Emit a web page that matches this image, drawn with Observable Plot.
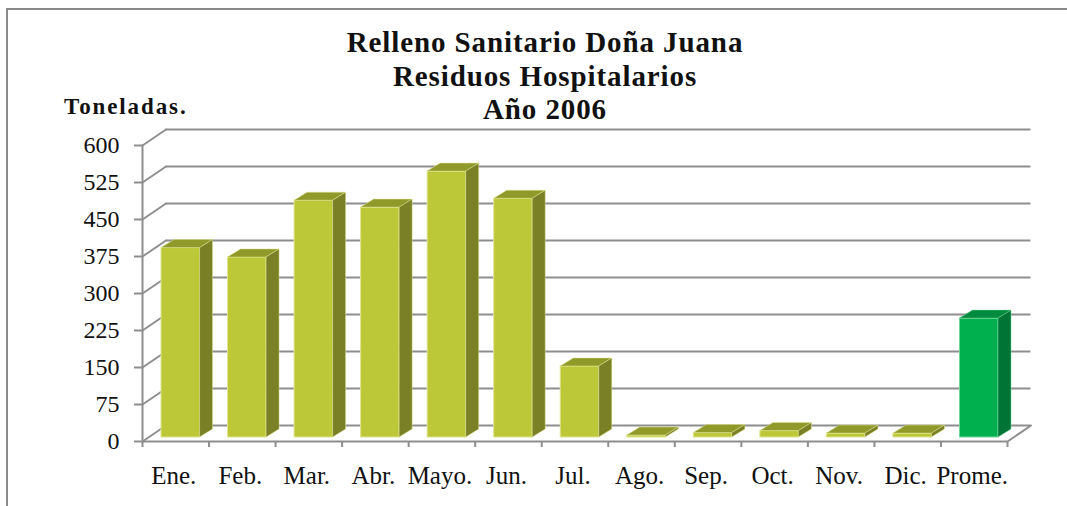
<!DOCTYPE html>
<html lang="es">
<head>
<meta charset="utf-8">
<script src="https://cdn.jsdelivr.net/npm/d3@7"></script>
<script src="https://cdn.jsdelivr.net/npm/@observablehq/plot@0.6"></script>
<style>
  html, body { margin: 0; padding: 0; background: #fff; }
  #page { position: relative; width: 1067px; height: 506px; overflow: hidden; background: #fff; font-family: "Liberation Serif", serif; color: #111; }
  #edge { position: absolute; left: 6px; top: 8px; right: -4px; bottom: -4px; border-top: 2px solid #8a8a8a; border-left: 2px solid #8a8a8a; }
  #head { position: relative; height: 125px; }
  #title { position: absolute; left: 24px; width: 1042px; top: 26px; text-align: center; font-weight: bold; font-size: 29px; line-height: 33.5px; letter-spacing: 0.9px; }
  #unit { position: absolute; left: 64px; top: 95px; font-weight: bold; font-size: 23px; line-height: 24px; letter-spacing: 1.9px; }
  svg { display: block; }
</style>
</head>
<body>
<div id="page">
  <div id="edge"></div>
  <div id="head">
    <div id="title">Relleno Sanitario Doña Juana<br>Residuos Hospitalarios<br>Año 2006</div>
    <div id="unit">Toneladas.</div>
  </div>
  <div id="chart"></div>
</div>
<script>
const months = ["Ene.", "Feb.", "Mar.", "Abr.", "Mayo.", "Jun.", "Jul.", "Ago.", "Sep.", "Oct.", "Nov.", "Dic.", "Prome."];
const tonnes = [384, 365, 480, 466, 539, 484, 144, 4, 9, 13, 8, 8, 241];
const yTicks = [0, 75, 150, 225, 300, 375, 450, 525, 600];

const olive = "#bcc838";
const green = "#00b04f";
const shades = {
  [olive]: {top: "#8f9a2b", side: "#7a8026", edge: "#dfe58f"},
  [green]: {top: "#008a3e", side: "#007434", edge: "#6fd69a"}
};
const fills = months.map(m => m === "Prome." ? green : olive);
const rows = months.map((m, i) => ({month: m, value: tonnes[i], fill: fills[i]}));

const gray = "#8e8e8e";
const wallX = 23.5, wallY = 16;            // back-wall offset of the fake 3-D box
const depthX = 13, depthY = 8;             // depth of each bar
const wallLen = Math.hypot(wallX, wallY);
const wallAngle = Math.atan2(wallX, wallY) * 180 / Math.PI;
const bandHalf = 33.27;
const stroke2 = {draw(c, l) { c.moveTo(0, 0); c.lineTo(0, -l); }};

// Adds the top and side faces of each bar next to the rect Plot drew.
function withFaces(index, scales, values, dimensions, context, next) {
  const g = next(index, scales, values, dimensions, context);
  const root = d3.select(g);
  root.selectAll("rect").each(function () {
    const r = d3.select(this);
    const x = +r.attr("x"), y = +r.attr("y"), w = +r.attr("width"), h = +r.attr("height");
    const s = shades[r.attr("fill")];
    const host = d3.select(this.parentNode);
    host.append("polygon")
      .attr("points", [[x, y], [x + depthX, y - depthY], [x + w + depthX, y - depthY], [x + w, y]].join(" "))
      .attr("fill", s.top).attr("stroke", s.edge).attr("stroke-width", 0.5);
    host.append("polygon")
      .attr("points", [[x + w, y], [x + w + depthX, y - depthY], [x + w + depthX, y + h - depthY], [x + w, y + h]].join(" "))
      .attr("fill", s.side).attr("stroke", s.edge).attr("stroke-width", 0.5);
  });
  return g;
}

const plot = Plot.plot({
  width: 1067,
  height: 381,
  marginTop: 20,
  marginBottom: 65,
  marginLeft: 142,
  marginRight: 60,
  style: {background: "transparent", fontFamily: "Liberation Serif, serif", overflow: "visible"},
  x: {type: "band", domain: months, padding: 0, round: false, label: null},
  y: {domain: [0, 600], label: null},
  marks: [
    // back wall
    Plot.ruleY(yTicks, {y: d => d, stroke: gray, strokeWidth: 2, dx: wallX, dy: -wallY}),
    // left wall
    Plot.vector(yTicks, {y: d => d, frameAnchor: "left", length: wallLen, rotate: wallAngle, anchor: "start", shape: stroke2, stroke: gray, strokeWidth: 2}),
    // floor: right edge and front edge
    Plot.vector(["Prome."], {x: d => d, y: () => 0, dx: bandHalf, length: wallLen, rotate: wallAngle, anchor: "start", shape: stroke2, stroke: gray, strokeWidth: 2}),
    Plot.ruleY([0], {stroke: gray, strokeWidth: 2}),
    Plot.frame({anchor: "left", stroke: gray, strokeWidth: 2}),
    // axes
    Plot.axisY({ticks: yTicks, tickSize: 8, tickPadding: 15, stroke: gray, strokeWidth: 2, fill: "#111", fontSize: 24, label: null, tickFormat: d => String(d)}),
    Plot.axisX({tickSize: 6, stroke: gray, strokeWidth: 2, dx: -bandHalf, text: null, label: null}),
    Plot.axisX({ticks: ["Prome."], tickSize: 6, stroke: gray, strokeWidth: 2, dx: bandHalf, text: null, label: null}),
    Plot.axisX({tickSize: 0, tickPadding: 25, dx: -2, fill: "#111", fontSize: 25, label: null, style: {letterSpacing: "0.8px"}}),
    // bars
    Plot.barY(rows, {
      x: "month", y: "value", fill: "fill",
      insetLeft: 19, insetRight: 9, dy: -4,
      stroke: d => shades[d.fill].edge, strokeWidth: 1,
      render: withFaces
    })
  ]
});
document.getElementById("chart").append(plot);
</script>
</body>
</html>
